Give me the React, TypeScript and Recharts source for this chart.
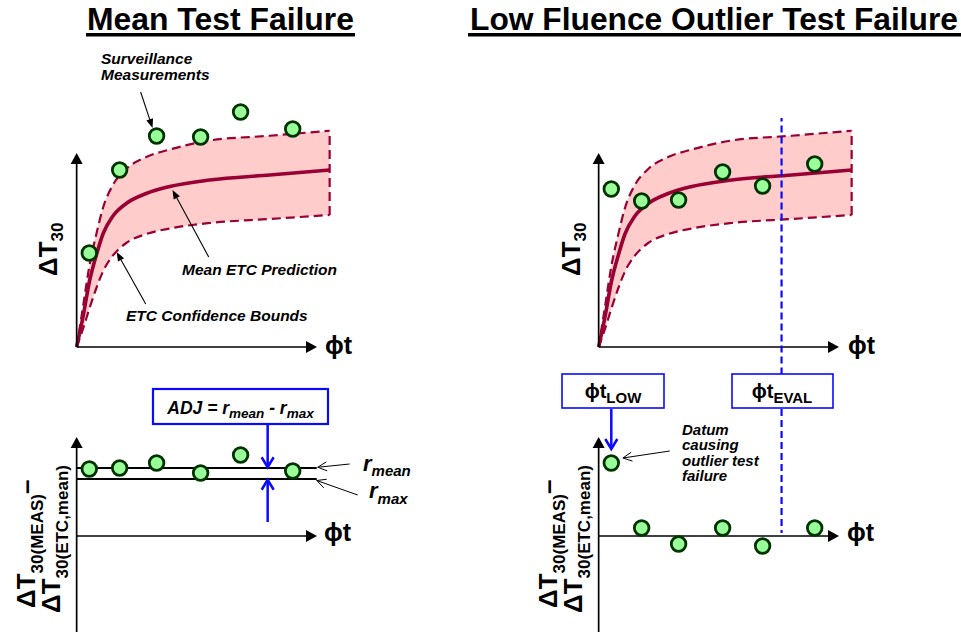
import {
  ComposedChart,
  Area,
  Line,
  Scatter,
  XAxis,
  YAxis,
  ReferenceLine,
} from 'recharts';

// ETC curve (same shape in both upper panels)
const fluence = [0, 2.5, 5.1, 7.8, 10.4, 14.2, 19.6, 27.5, 36.8, 52.6, 76.3, 100];
const meanEtc = [0, 12, 26.4, 36.8, 45.2, 52.2, 57.4, 61.4, 64.2, 66.8, 68.8, 70.8];
const upperBound = [0, 16, 32.8, 45.2, 55.6, 64.6, 71.2, 76, 79, 82.6, 84.5, 86.5];
const lowerBound = [0, 7.2, 15.6, 23.6, 30.2, 36.4, 41.6, 45.2, 47.4, 49.6, 51.2, 52.8];

// surveillance measurements
const measFluence = [5, 17, 31.6, 49, 64.8, 85.4];
const meanCaseDT = [37.6, 70.8, 84.4, 84, 94, 87.2];
const outlierCaseDT = [63.2, 58.4, 58.8, 70, 64.4, 73.2];
const meanCaseResid = [26.8, 27.2, 29.2, 25.2, 32.4, 26];
const outlierCaseResid = [29.2, 3.2, -3.2, 3.2, -4, 3.2];

const rMean = 27.2;
const rMax = 22.8;
const phiTLow = 5;
const phiTEval = 72.3;

const MAROON = '#990033';
const PINK = '#ffcccc';
const BLUE = '#0a0aff';
const FONT = '"Liberation Sans", Arial, Helvetica, sans-serif';

// scale: 2.53 px per fluence unit, 2.5 px per degree
const X_DOMAIN: [number, number] = [-5, 115];
const TOP_DOMAIN: [number, number] = [-11, 104];
const BOT_DOMAIN: [number, number] = [-40, 52];
const CHART_W = 120 * 2.53;
const TOP_H = 115 * 2.5;
const BOT_H = 92 * 2.5;

const curveRows = fluence.map((x, i) => ({
  x,
  mean: meanEtc[i],
  upper: upperBound[i],
  lower: lowerBound[i],
  band: [lowerBound[i], upperBound[i]],
}));
const points = (ys: number[]) => measFluence.map((x, i) => ({ x, y: ys[i] }));

type ArrowStyle = { color: string; width: number; head: 'solid' | 'open'; len: number; half: number };

function arrowShape(s: ArrowStyle) {
  return (p: any) => {
    const { x1, y1, x2, y2 } = p;
    const dx = x2 - x1;
    const dy = y2 - y1;
    const d = Math.hypot(dx, dy) || 1;
    const ux = dx / d;
    const uy = dy / d;
    const bx = x2 - ux * s.len;
    const by = y2 - uy * s.len;
    const nx = -uy * s.half;
    const ny = ux * s.half;
    const wing = `${bx + nx},${by + ny} ${x2},${y2} ${bx - nx},${by - ny}`;
    if (s.head === 'solid') {
      return (
        <g>
          <line x1={x1} y1={y1} x2={bx + ux} y2={by + uy} stroke={s.color} strokeWidth={s.width} />
          <polygon points={wing} fill={s.color} />
        </g>
      );
    }
    return (
      <g>
        <line x1={x1} y1={y1} x2={x2} y2={y2} stroke={s.color} strokeWidth={s.width} />
        <polyline points={wing} fill="none" stroke={s.color} strokeWidth={s.width} />
      </g>
    );
  };
}

const AXIS = arrowShape({ color: '#000', width: 1.7, head: 'solid', len: 11, half: 6 });
const POINTER = arrowShape({ color: '#000', width: 1.1, head: 'solid', len: 9, half: 3.5 });
const THIN = arrowShape({ color: '#000', width: 1, head: 'open', len: 9, half: 4.5 });
const BLUE_ARROW = arrowShape({ color: BLUE, width: 2.5, head: 'open', len: 10, half: 6 });

const dot = (p: any) => (
  <circle cx={p.cx} cy={p.cy} r={7.3} fill="#99ff99" stroke="#003300" strokeWidth={2.8} />
);

const seg = (x1: number, y1: number, x2: number, y2: number) => [
  { x: x1, y: y1 },
  { x: x2, y: y2 },
];

function curveLayers() {
  const last = curveRows[curveRows.length - 1];
  return [
    <Area key="band" type="monotone" dataKey="band" fill={PINK} fillOpacity={1} stroke="none" isAnimationActive={false} />,
    <Line key="up" type="monotone" dataKey="upper" stroke={MAROON} strokeWidth={2.2} strokeDasharray="9 5" dot={false} isAnimationActive={false} />,
    <Line key="lo" type="monotone" dataKey="lower" stroke={MAROON} strokeWidth={2.2} strokeDasharray="9 5" dot={false} isAnimationActive={false} />,
    <ReferenceLine key="edge" segment={seg(last.x, last.lower, last.x, last.upper)} stroke={MAROON} strokeWidth={2.2} strokeDasharray="9 5" />,
    <Line key="mean" type="monotone" dataKey="mean" stroke={MAROON} strokeWidth={3.6} dot={false} isAnimationActive={false} />,
  ];
}

function Panel({ left, top, height, yDomain, data, children }: any) {
  return (
    <div style={{ position: 'absolute', left, top }}>
      <ComposedChart width={CHART_W} height={height} data={data} margin={{ top: 0, right: 0, bottom: 0, left: 0 }}>
        <XAxis type="number" dataKey="x" domain={X_DOMAIN} hide allowDataOverflow />
        <YAxis type="number" domain={yDomain} hide allowDataOverflow />
        {children}
      </ComposedChart>
    </div>
  );
}

const bi = { fontStyle: 'italic' as const, fontWeight: 700, fontSize: 15.5 };

export default function App() {
  return (
    <div
      style={{
        position: 'fixed',
        left: 0,
        top: 0,
        width: 961,
        height: 632,
        background: '#fff',
        overflow: 'hidden',
        fontFamily: FONT,
      }}
    >
      {/* Mean test failure: measurements vs ETC */}
      <Panel left={77 - 5 * 2.53} top={87} height={TOP_H} yDomain={TOP_DOMAIN} data={curveRows}>
        {curveLayers()}
        <ReferenceLine segment={seg(0, 0, 0, 77.6)} shape={AXIS} />
        <ReferenceLine segment={seg(0, 0, 95, 0)} shape={AXIS} />
        <ReferenceLine segment={seg(25.3, 102, 30, 87.6)} shape={POINTER} />
        <ReferenceLine segment={seg(52.2, 36, 37.9, 62.8)} shape={POINTER} />
        <ReferenceLine segment={seg(27.3, 17.2, 15.8, 38)} shape={POINTER} />
        <Scatter data={points(meanCaseDT)} dataKey="y" shape={dot} isAnimationActive={false} />
      </Panel>

      {/* Low fluence outlier: measurements vs ETC */}
      <Panel left={599 - 5 * 2.53} top={87} height={TOP_H} yDomain={TOP_DOMAIN} data={curveRows}>
        {curveLayers()}
        <ReferenceLine segment={seg(0, 0, 0, 77.6)} shape={AXIS} />
        <ReferenceLine segment={seg(0, 0, 95, 0)} shape={AXIS} />
        <ReferenceLine segment={seg(phiTEval, -11, phiTEval, 91.6)} stroke={BLUE} strokeWidth={2.2} strokeDasharray="7 4" />
        <Scatter data={points(outlierCaseDT)} dataKey="y" shape={dot} isAnimationActive={false} />
      </Panel>

      {/* Mean test failure: residuals */}
      <Panel left={77 - 5 * 2.53} top={406} height={BOT_H} yDomain={BOT_DOMAIN} data={[]}>
        <ReferenceLine segment={seg(0, -40, 0, 39.6)} shape={AXIS} />
        <ReferenceLine segment={seg(0, 0, 95, 0)} shape={AXIS} />
        <ReferenceLine segment={seg(0, rMean, 94.9, rMean)} stroke="#000" strokeWidth={2} />
        <ReferenceLine segment={seg(0, rMax, 94.9, rMax)} stroke="#000" strokeWidth={2} />
        <ReferenceLine segment={seg(75.5, 44.8, 75.5, rMean + 0.3)} shape={BLUE_ARROW} />
        <ReferenceLine segment={seg(75.5, 5.6, 75.5, rMax - 0.3)} shape={BLUE_ARROW} />
        <ReferenceLine segment={seg(107.9, 28.8, 95.3, rMean + 0.3)} shape={THIN} />
        <ReferenceLine segment={seg(111.1, 16.4, 94.9, rMax - 0.6)} shape={THIN} />
        <Scatter data={points(meanCaseResid)} dataKey="y" shape={dot} isAnimationActive={false} />
      </Panel>

      {/* Low fluence outlier: residuals */}
      <Panel left={599 - 5 * 2.53} top={406} height={BOT_H} yDomain={BOT_DOMAIN} data={[]}>
        <ReferenceLine segment={seg(0, -40, 0, 39.6)} shape={AXIS} />
        <ReferenceLine segment={seg(0, 0, 95, 0)} shape={AXIS} />
        <ReferenceLine segment={seg(phiTEval, 50.8, phiTEval, 1.2)} stroke={BLUE} strokeWidth={2.2} strokeDasharray="7 4" />
        <ReferenceLine segment={seg(phiTLow, 50.8, phiTLow, 34.8)} shape={BLUE_ARROW} />
        <ReferenceLine segment={seg(28.1, 34, 9.6, 31.2)} shape={THIN} />
        <Scatter data={points(outlierCaseResid)} dataKey="y" shape={dot} isAnimationActive={false} />
      </Panel>

      <svg width={961} height={632} style={{ position: 'absolute', left: 0, top: 0, pointerEvents: 'none' }} fontFamily={FONT}>
        <text x={87} y={30} fontSize={31} fontWeight={700} textLength={267} lengthAdjust="spacingAndGlyphs">
          Mean Test Failure
        </text>
        <rect x={86} y={33} width={269} height={3.5} fill="#000" />
        <text x={470} y={30} fontSize={31} fontWeight={700} textLength={488} lengthAdjust="spacingAndGlyphs">
          Low Fluence Outlier Test Failure
        </text>
        <rect x={468} y={33} width={493} height={3.5} fill="#000" />

        <text transform="translate(57,276) rotate(-90)" fontSize={26} fontWeight={700}>
          ΔT<tspan fontSize={17} dy={6}>30</tspan>
        </text>
        <text transform="translate(580,276) rotate(-90)" fontSize={26} fontWeight={700}>
          ΔT<tspan fontSize={17} dy={6}>30</tspan>
        </text>

        {[0, 522].map((dx) => (
          <g key={dx} transform={`translate(${dx},0)`}>
            <text transform="translate(35,608) rotate(-90)" fontSize={26} fontWeight={700}>
              ΔT<tspan fontSize={17} dy={8}>30(MEAS)</tspan>
              <tspan dy={-8}>–</tspan>
            </text>
            <text transform="translate(60,613) rotate(-90)" fontSize={26} fontWeight={700}>
              ΔT<tspan fontSize={17} dy={8}>30(ETC,mean)</tspan>
            </text>
          </g>
        ))}

        <text x={325} y={354} fontSize={25} fontWeight={700}>ϕt</text>
        <text x={848} y={354} fontSize={25} fontWeight={700}>ϕt</text>
        <text x={324} y={541} fontSize={25} fontWeight={700}>ϕt</text>
        <text x={847} y={541} fontSize={25} fontWeight={700}>ϕt</text>

        <text x={101} y={64} {...bi}>
          Surveillance
          <tspan x={101} dy={16}>Measurements</tspan>
        </text>
        <text x={182} y={275} {...bi}>Mean ETC Prediction</text>
        <text x={126} y={321} {...bi}>ETC Confidence Bounds</text>

        <rect x={153} y={389} width={175} height={35} fill="#fff" stroke={BLUE} strokeWidth={2.2} />
        <text x={240.5} y={414} textAnchor="middle" fontSize={17.5} fontWeight={700} fontStyle="italic">
          ADJ = r<tspan fontSize={13.5} dy={4}>mean</tspan>
          <tspan dy={-4}> - r</tspan>
          <tspan fontSize={13.5} dy={4}>max</tspan>
        </text>

        <text x={363} y={471} fontSize={22} fontWeight={700} fontStyle="italic">
          r<tspan fontSize={15} dy={5}>mean</tspan>
        </text>
        <text x={369} y={498} fontSize={22} fontWeight={700} fontStyle="italic">
          r<tspan fontSize={15} dy={6}>max</tspan>
        </text>

        <rect x={562} y={374} width={102} height={34} fill="#fff" stroke={BLUE} strokeWidth={1.6} />
        <text x={613} y={398} textAnchor="middle" fontSize={20} fontWeight={700}>
          ϕt<tspan fontSize={15} dy={5}>LOW</tspan>
        </text>
        <rect x={732} y={374} width={101} height={34} fill="#fff" stroke={BLUE} strokeWidth={1.6} />
        <text x={782} y={398} textAnchor="middle" fontSize={20} fontWeight={700}>
          ϕt<tspan fontSize={15} dy={5}>EVAL</tspan>
        </text>

        <text x={682} y={434.5} {...bi} fontSize={15}>
          Datum
          <tspan x={682} dy={15.5}>causing</tspan>
          <tspan x={682} dy={15.5}>outlier test</tspan>
          <tspan x={682} dy={15.5}>failure</tspan>
        </text>
      </svg>
    </div>
  );
}
